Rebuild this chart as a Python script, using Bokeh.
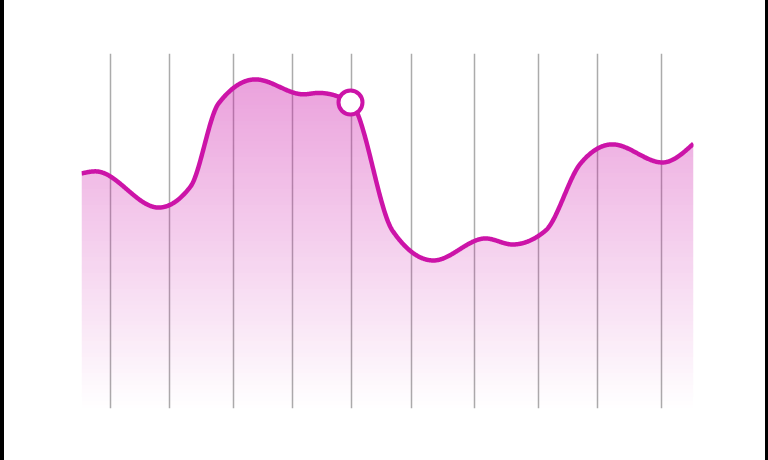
import numpy as np
from bokeh.plotting import figure
from bokeh.models import Range1d, Grid, FixedTicker, ColumnDataSource
from bokeh.embed import file_html
from bokeh.resources import INLINE

# ---- data ----
x_vals = [0, 14, 77, 109, 137, 174, 222, 237, 269, 311, 352, 404, 431, 464, 499, 531, 581, 612]
y_vals = [66.2, 66.8, 56.6, 62.5, 85.9, 92.7, 88.5, 88.9, 86.2, 50.1, 41.7, 47.9, 46.2, 50.1, 69.0, 74.4, 69.3, 74.6]
highlight_index = 8
grid_ticks = [29, 88, 152, 211, 270, 330, 393, 457, 516, 580]

LINE_COLOR = "#CC14A8"
FILL_COLOR = "#CC14A8"
GRID_COLOR = "#ababab"

Y_MAX = 100.0
FRAME_H = 355
FRAME_W = 612


def monotone_x(xs, ys, xd):
    """Monotone cubic (d3 curveMonotoneX style) path through the data points."""
    xs = np.asarray(xs, float)
    ys = np.asarray(ys, float)
    h = np.diff(xs)
    s = np.diff(ys) / h
    n = len(xs)
    t = np.zeros(n)
    for i in range(1, n - 1):
        p = (s[i - 1] * h[i] + s[i] * h[i - 1]) / (h[i - 1] + h[i])
        t[i] = (np.sign(s[i - 1]) + np.sign(s[i])) * min(abs(s[i - 1]), abs(s[i]), 0.5 * abs(p))
    t[0] = (3 * s[0] - t[1]) / 2
    t[-1] = (3 * s[-1] - t[-2]) / 2
    idx = np.clip(np.searchsorted(xs, xd, side="right") - 1, 0, n - 2)
    hh = h[idx]
    u = (xd - xs[idx]) / hh
    h00 = 2 * u**3 - 3 * u**2 + 1
    h10 = u**3 - 2 * u**2 + u
    h01 = -2 * u**3 + 3 * u**2
    h11 = u**3 - u**2
    return h00 * ys[idx] + h10 * hh * t[idx] + h01 * ys[idx + 1] + h11 * hh * t[idx + 1]


xd = np.linspace(x_vals[0], x_vals[-1], 1200)
yd = monotone_x(x_vals, y_vals, xd)

p = figure(width=768, height=460, output_backend="svg", toolbar_location=None,
           x_axis_location=None, y_axis_location=None,
           x_range=Range1d(0, FRAME_W), y_range=Range1d(0, Y_MAX),
           min_border_left=77, min_border_right=79, min_border_top=53, min_border_bottom=52)
p.styles = {"border-left": "4px solid black", "border-right": "3px solid black"}
p.outline_line_color = None
p.background_fill_color = "white"
p.border_fill_color = "white"
p.center = [r for r in p.center if not isinstance(r, Grid)]
p.add_layout(Grid(dimension=0, ticker=FixedTicker(ticks=grid_ticks),
                  grid_line_color=GRID_COLOR, grid_line_width=1.5))

# vertical gradient fill under the curve: disjoint horizontal bands, each with its own alpha
px = Y_MAX / FRAME_H
band = 4 * px
offset = 0.5 * px
top = float(yd.max())
max_alpha = 0.40
xs_list, ys_list, alphas = [], [], []
k = 0
while k * band - offset < top:
    lo = max(k * band - offset, 0.0)
    hi = (k + 1) * band - offset
    mask = yd > lo
    if mask.any():
        i0 = max(int(np.argmax(mask)) - 1, 0)
        i1 = min(len(xd) - int(np.argmax(mask[::-1])), len(xd))
        xx = xd[i0:i1]
        upper = np.clip(yd[i0:i1], lo, hi)
        xs_list.append(np.concatenate([xx, xx[::-1]]))
        ys_list.append(np.concatenate([upper, np.full_like(xx, lo)]))
        alphas.append(max_alpha * min((lo + hi) / 2 / top, 1.0))
    k += 1
src = ColumnDataSource(dict(xs=xs_list, ys=ys_list, alpha=alphas))
p.patches("xs", "ys", source=src, fill_color=FILL_COLOR,
          fill_alpha="alpha", line_color=None, line_width=0)

p.line(xd, yd, line_width=4.5, line_color=LINE_COLOR, line_join="round")
p.scatter([x_vals[highlight_index]], [y_vals[highlight_index]], size=24,
          fill_color="white", line_color=LINE_COLOR, line_width=4)

open("out.html", "w").write(file_html(p, INLINE))
